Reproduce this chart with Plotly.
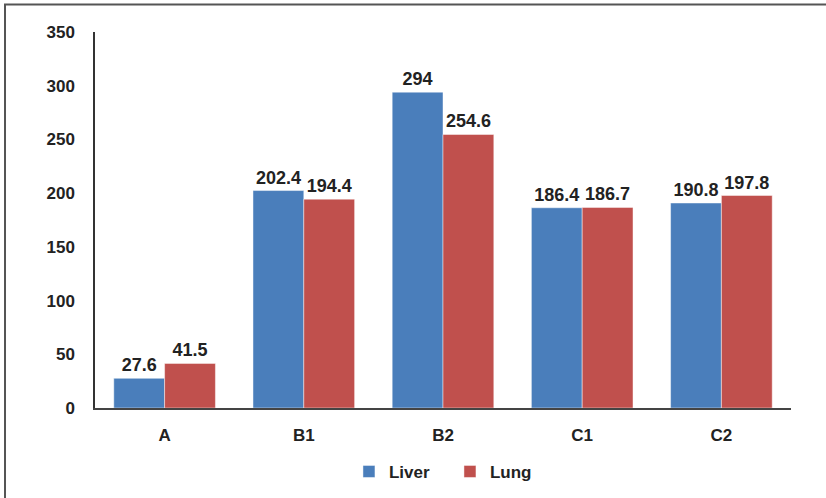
import plotly.graph_objects as go

# Chart data
categories = ["A", "B1", "B2", "C1", "C2"]
liver = [27.6, 202.4, 294, 186.4, 190.8]
lung = [41.5, 194.4, 254.6, 186.7, 197.8]
y_ticks = [0, 50, 100, 150, 200, 250, 300, 350]

FONT = "Liberation Sans, Arial, sans-serif"
TEXT_COLOR = "#222222"
FS = 17
LABEL_FS = 18

fig = go.Figure()
fig.add_trace(go.Bar(
    name="<b>Liver</b>", x=categories, y=liver,
    marker=dict(color="#4a7ebb", line=dict(color="rgba(255,255,255,0.45)", width=1)),
    text=[f"<b>{v:g}</b>" for v in liver], textposition="outside", constraintext="none",
    textfont=dict(family=FONT, size=LABEL_FS, color=TEXT_COLOR), cliponaxis=False,
))
fig.add_trace(go.Bar(
    name="<b>Lung</b>", x=categories, y=lung,
    marker=dict(color="#c0504d", line=dict(color="rgba(255,255,255,0.45)", width=1)),
    text=[f"<b>{v:g}</b>" for v in lung], textposition="outside", constraintext="none",
    textfont=dict(family=FONT, size=LABEL_FS, color=TEXT_COLOR), cliponaxis=False,
))

fig.update_layout(
    width=826, height=498,
    margin=dict(l=95, r=35, t=32, b=90, autoexpand=False),
    paper_bgcolor="white", plot_bgcolor="white",
    barmode="group", bargap=0.27, bargroupgap=0,
    font=dict(family=FONT, size=FS, color=TEXT_COLOR),
    legend=dict(
        orientation="h", x=0.51, xanchor="center", y=-0.17, yanchor="middle",
        font=dict(family=FONT, size=FS, color=TEXT_COLOR),
        itemwidth=30, entrywidth=56, traceorder="normal",
    ),
    showlegend=True,
)

fig.update_yaxes(
    range=[0, 350], tickvals=y_ticks,
    ticktext=[f"<b>{t}</b>" for t in y_ticks],
    showgrid=False, zeroline=False,
    showline=True, linecolor="#333333", linewidth=1.5,
    ticks="", ticklabelstandoff=15,
    tickfont=dict(family=FONT, size=FS, color=TEXT_COLOR),
)
fig.update_xaxes(
    tickvals=categories, ticktext=[f"<b>{c}</b>" for c in categories],
    showgrid=False, showline=True, linecolor="#444444", linewidth=2,
    ticks="", ticklabelstandoff=11,
    tickfont=dict(family=FONT, size=FS, color=TEXT_COLOR),
)

# Outer frame around the figure
fig.add_shape(
    type="rect", xref="paper", yref="paper",
    x0=-0.1293, x1=1.5, y0=-0.6, y1=1.0731,
    line=dict(color="#555555", width=2), fillcolor="rgba(0,0,0,0)", layer="below",
)

fig.write_html("out.html")
